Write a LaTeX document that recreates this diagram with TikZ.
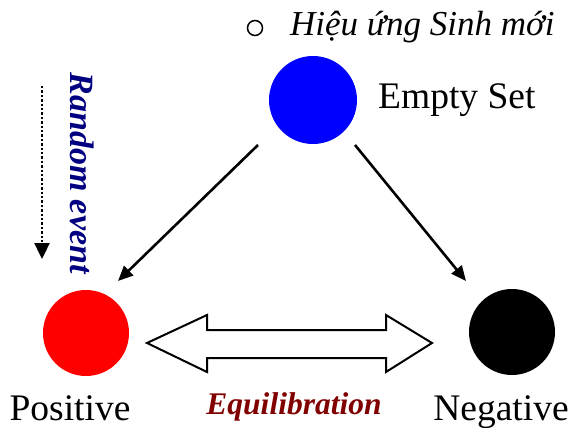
\documentclass[tikz,border=0pt]{standalone}
\usepackage{fontspec}
\setmainfont{Liberation Serif}
\usetikzlibrary{arrows.meta}
\definecolor{navyblue}{RGB}{0,0,128}
\definecolor{darkred}{RGB}{128,0,0}
\tikzset{
  dot/.style={circle, inner sep=0pt, minimum size=#1},
  lbl/.style={font=\fontsize{37.5}{40}\selectfont, inner sep=0pt},
  conn/.style={line width=2.6pt, -{Triangle[length=15pt,width=13pt]}},
}
\begin{document}
\begin{tikzpicture}[x=1pt,y=-1pt]
\useasboundingbox (0,0) rectangle (571,428);
% circles
\node[dot=88pt, fill=blue] (empty) at (313,100) {};
\node[dot=86pt, fill=red] (pos) at (86,333) {};
\node[dot=86pt, fill=black] (neg) at (512,332) {};
% labels
\node[lbl, anchor=base west] (emptyl) at (378,109) {Empty Set};
\node[lbl, anchor=base] (posl) at (70,420) {Positive};
\node[lbl, anchor=base] (negl) at (501,420) {Negative};
\node[font=\fontsize{35}{37}\selectfont\itshape, anchor=base west, inner sep=0pt] (title) at (290,36) {Hiệu ứng Sinh mới};
\draw[line width=1.5pt] (255,28) circle (7.5pt);
% arrows
\coordinate (a1s) at (258,145);
\coordinate (a1e) at (118,281);
\coordinate (a2s) at (355,145);
\coordinate (a2e) at (466,281);
\draw[conn] (a1s) -- (a1e);
\draw[conn] (a2s) -- (a2e);
% double block arrow
\draw[line width=2pt, fill=white, line join=miter]
  (147,343) -- (207,315) -- (207,330) -- (386,330) -- (386,315) -- (432,343)
  -- (386,372) -- (386,358) -- (207,358) -- (207,372) -- cycle;
\node[font=\fontsize{31.5}{33}\selectfont\bfseries\itshape, text=darkred, inner sep=0pt, anchor=base] (equil) at (294,414) {Equilibration};
% random event
\node[font=\fontsize{34}{36}\selectfont\bfseries\itshape, text=navyblue, inner sep=0pt, rotate=-90, anchor=base] (rand) at (70,173) {Random event};
\coordinate (rs) at (42,86);
\coordinate (re) at (42,259);
\draw[line width=2.4pt, dotted, -{Triangle[length=16pt,width=15pt]}] (rs) -- (re);
\end{tikzpicture}
\end{document}
